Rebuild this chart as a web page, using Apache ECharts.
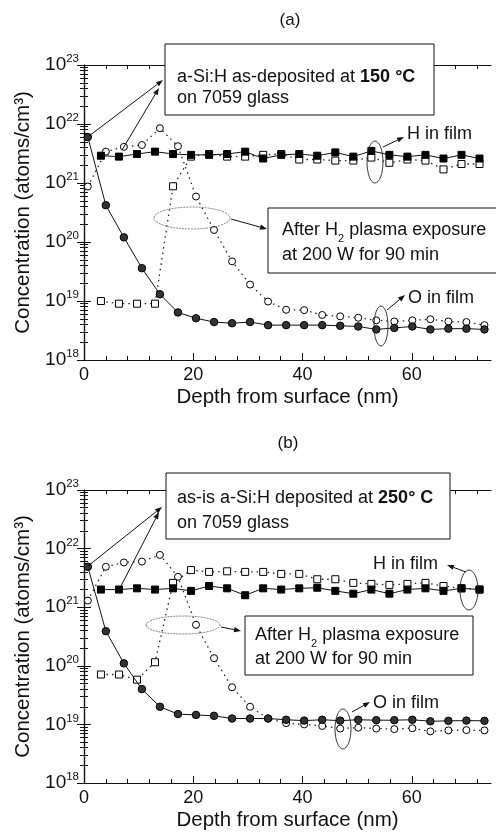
<!DOCTYPE html>
<html lang="en">
<head>
<meta charset="UTF-8">
<title>SIMS profiles</title>
<script src="https://cdn.jsdelivr.net/npm/echarts/dist/echarts.min.js"></script>
<style>
  html, body { margin: 0; padding: 0; background: #fff; }
</style>
</head>
<body>
<div id="container" style="width:496px;height:837px"></div>
<script type="text/javascript">
    // depth positions (nm)
    var depthO = [0.7, 4, 7.3, 10.6, 13.9, 17.2, 20.5, 23.8, 27.1, 30.4, 33.7, 37, 40.3, 43.6, 46.9, 50.2, 53.5, 56.8, 60.1, 63.4, 66.7, 70, 73.3];
    var depthH = [3.1, 6.4, 9.7, 13, 16.3, 19.6, 22.9, 26.2, 29.5, 32.8, 36.1, 39.4, 42.7, 46, 49.3, 52.6, 55.9, 59.2, 62.5, 65.8, 69.1, 72.4];

    // (a) 150 C
    var aOasDep = [6e21, 4.2e20, 1.2e20, 3.6e19, 1.3e19, 6.4e18, 5.1e18, 4.4e18, 4.2e18, 4.4e18, 3.9e18, 3.9e18, 3.9e18, 3.9e18, 3.8e18, 3.7e18, 3.3e18, 3.5e18, 3.7e18, 3.3e18, 3.4e18, 3.4e18, 3.3e18];
    var aOplasma = [8.7e20, 3.4e21, 4.1e21, 4.4e21, 8.5e21, 4.2e21, 5.9e20, 1.6e20, 4.7e19, 1.9e19, 9.8e18, 7.1e18, 7e18, 5.8e18, 5.5e18, 5.2e18, 4.7e18, 4.5e18, 4.7e18, 4.9e18, 4.5e18, 4.4e18, 3.9e18];
    var aHasDep = [2.9e21, 2.8e21, 3.1e21, 3.4e21, 3.1e21, 3.0e21, 3.0e21, 3.1e21, 3.4e21, 2.6e21, 3.0e21, 3.1e21, 2.9e21, 3.3e21, 2.8e21, 3.5e21, 3.0e21, 2.8e21, 3.0e21, 2.6e21, 3.0e21, 2.6e21];
    var aHplasma = [1.0e19, 9e18, 9e18, 9e18, 8.8e20, 2.8e21, 3.1e21, 2.8e21, 2.8e21, 3.0e21, 3.1e21, 2.5e21, 2.5e21, 2.4e21, 2.4e21, 2.7e21, 2.2e21, 2.5e21, 2.4e21, 1.7e21, 2.1e21, 2.1e21];

    // (b) 250 C
    var bOasDep = [4.9e21, 3.9e20, 1.1e20, 4.0e19, 2.0e19, 1.5e19, 1.45e19, 1.4e19, 1.26e19, 1.26e19, 1.26e19, 1.2e19, 1.16e19, 1.2e19, 1.16e19, 1.2e19, 1.18e19, 1.18e19, 1.2e19, 1.13e19, 1.15e19, 1.16e19, 1.15e19];
    var bOplasma = [1.3e21, 4.9e21, 5.8e21, 6.0e21, 7.8e21, 3.3e21, 5.0e20, 1.35e20, 4.3e19, 2.0e19, 1.26e19, 1.05e19, 1.0e19, 9.4e18, 8.5e18, 8.8e18, 8.5e18, 8.3e18, 8.6e18, 7.6e18, 7.9e18, 8.0e18, 7.9e18];
    var bHasDep = [2.0e21, 2.0e21, 2.1e21, 2.0e21, 2.1e21, 1.9e21, 2.3e21, 2.1e21, 1.6e21, 2.1e21, 2.0e21, 2.1e21, 2.15e21, 1.9e21, 1.7e21, 2.0e21, 1.7e21, 2.0e21, 2.1e21, 1.9e21, 2.1e21, 2.0e21];
    var bHplasma = [7.1e19, 7.1e19, 5.8e19, 1.15e20, 2.6e21, 4.3e21, 4.0e21, 4.1e21, 4.0e21, 4.0e21, 3.7e21, 3.7e21, 3.0e21, 3.0e21, 2.6e21, 2.5e21, 2.4e21, 2.5e21, 2.6e21, 2.3e21, 2.1e21, 2.0e21];

    // ticks (top decade nudged below 1e23 so float rounding keeps it inside the extent)
    var xMajor = [0, 20, 40, 60];
    var xMinor = [4, 8, 12, 16, 24, 28, 32, 36, 44, 48, 52, 56, 64, 68, 72];
    var yMajor = [1.0001e18, 1e19, 1e20, 1e21, 1e22, 0.9999e23];
    var yMinor = [];
    for (var d = 18; d < 23; d++) {
        for (var m = 2; m <= 9; m++) yMinor.push(m * Math.pow(10, d));
    }

    var font = 'Liberation Sans, Arial, sans-serif';
    var ink = '#111';

    function pairs(xs, ys) {
        return ys.map(function (v, i) { return [xs[i], v]; });
    }

    function xAxes(g) {
        var base = {
            gridIndex: g, type: 'value', min: 0, max: 74.5,
            splitLine: {show: false}
        };
        return [
            Object.assign({}, base, {
                position: 'bottom',
                name: 'Depth from surface (nm)', nameLocation: 'middle', nameGap: 27,
                nameTextStyle: {fontFamily: font, fontSize: 20.5, color: ink},
                axisLine: {show: true, lineStyle: {color: ink, width: 1.2}},
                axisTick: {inside: true, length: 7, customValues: xMajor, lineStyle: {color: ink}},
                axisLabel: {customValues: xMajor, fontFamily: font, fontSize: 18, color: ink, margin: 6}
            }),
            Object.assign({}, base, {
                position: 'bottom',
                axisLine: {show: false},
                axisTick: {inside: true, length: 4, customValues: xMinor, lineStyle: {color: ink}},
                axisLabel: {show: false}
            }),
            Object.assign({}, base, {
                position: 'top',
                axisLine: {show: true, lineStyle: {color: ink, width: 1.2}},
                axisTick: {inside: true, length: 7, customValues: xMajor, lineStyle: {color: ink}},
                axisLabel: {show: false}
            }),
            Object.assign({}, base, {
                position: 'top',
                axisLine: {show: false},
                axisTick: {inside: true, length: 4, customValues: xMinor, lineStyle: {color: ink}},
                axisLabel: {show: false}
            })
        ];
    }

    function yAxes(g) {
        var base = {
            gridIndex: g, type: 'log', logBase: 10, min: 1e18, max: 1e23,
            splitLine: {show: false}
        };
        return [
            Object.assign({}, base, {
                position: 'left',
                name: 'Concentration (atoms/cm³)', nameLocation: 'middle', nameGap: 41,
                nameTextStyle: {fontFamily: font, fontSize: 20.5, color: ink},
                axisLine: {show: true, lineStyle: {color: ink, width: 1.2}},
                axisTick: {inside: true, length: 7, customValues: yMajor, lineStyle: {color: ink}},
                axisLabel: {
                    customValues: yMajor, margin: 5,
                    showMaxLabel: true, showMinLabel: true, hideOverlap: false,
                    formatter: function (v) {
                        return '{b|10}{s|' + Math.round(Math.log10(v)) + '}';
                    },
                    rich: {
                        b: {fontFamily: font, fontSize: 19, color: ink, lineHeight: 24},
                        s: {fontFamily: font, fontSize: 11.5, color: ink, lineHeight: 12, verticalAlign: 'top'}
                    }
                }
            }),
            Object.assign({}, base, {
                position: 'left',
                axisLine: {show: false},
                axisTick: {inside: true, length: 4, customValues: yMinor, lineStyle: {color: ink}},
                axisLabel: {show: false}
            }),
            Object.assign({}, base, {
                position: 'right',
                axisLine: {show: true, lineStyle: {color: ink, width: 1.2}},
                axisTick: {inside: true, length: 7, customValues: yMajor, lineStyle: {color: ink}},
                axisLabel: {show: false}
            }),
            Object.assign({}, base, {
                position: 'right',
                axisLine: {show: false},
                axisTick: {inside: true, length: 4, customValues: yMinor, lineStyle: {color: ink}},
                axisLabel: {show: false}
            })
        ];
    }

    function series(g, xs, ys, kind) {
        var solid = kind === 'Oas' || kind === 'Has';
        var sym = (kind === 'Oas' || kind === 'Opl') ? 'circle' : 'rect';
        return {
            type: 'line', xAxisIndex: g * 4, yAxisIndex: g * 4,
            data: pairs(xs, ys),
            symbol: sym, symbolSize: kind === 'Oas' ? 7.5 : 7,
            showAllSymbol: true,
            lineStyle: solid ? {color: ink, width: 1} : {color: '#222', width: 1.3, type: [1.5, 4]},
            itemStyle: solid
                ? {color: kind === 'Oas' ? '#333' : '#000', borderColor: '#000', borderWidth: 1}
                : {color: '#fff', borderColor: '#000', borderWidth: 1},
            z: solid ? 3 : 2,
            animation: false
        };
    }

    // annotation helpers
    function txt(x, y, text, size, align) {
        return {
            type: 'text', x: x, y: y, z: 100,
            style: {
                text: text, fontFamily: font, fontSize: size || 18, fill: ink,
                align: align || 'left', verticalAlign: 'middle',
                rich: {
                    b: {fontFamily: font, fontSize: 18, fontWeight: 'bold', fill: ink},
                    sub: {fontFamily: font, fontSize: 11, fill: ink, lineHeight: 28, verticalAlign: 'bottom'}
                }
            }
        };
    }
    function box(x, y, w, h) {
        return {type: 'rect', z: 90, shape: {x: x, y: y, width: w, height: h},
            style: {fill: '#fff', stroke: ink, lineWidth: 1}};
    }
    function ell(cx, cy, rx, ry, gray) {
        return {type: 'ellipse', z: 95, shape: {cx: cx, cy: cy, rx: rx, ry: ry},
            style: {fill: null, stroke: gray ? '#777' : '#222', lineWidth: 0.9, lineDash: gray ? [2, 1] : null}};
    }
    function arrow(x1, y1, x2, y2) {
        var a = Math.atan2(y2 - y1, x2 - x1), L = 7, W = 2.6;
        var bx = x2 - L * Math.cos(a), by = y2 - L * Math.sin(a);
        return [
            {type: 'line', z: 95, shape: {x1: x1, y1: y1, x2: bx, y2: by}, style: {stroke: ink, lineWidth: 1}},
            {type: 'polygon', z: 95, shape: {points: [[x2, y2],
                [bx + W * Math.sin(a), by - W * Math.cos(a)],
                [bx - W * Math.sin(a), by + W * Math.cos(a)]]}, style: {fill: ink}}
        ];
    }

    var graphics = [
        txt(290, 20, '(a)', 17, 'center'),
        txt(288, 443, '(b)', 17, 'center'),

        // (a)
        box(165, 44, 269, 71),
        txt(177, 77, 'a-Si:H as-deposited at {b|150 °C}'),
        txt(177, 98, 'on 7059 glass'),
        box(268, 208, 240, 65),
        txt(282, 230, 'After H{sub|2} plasma exposure'),
        txt(282, 255, 'at 200 W for 90 min'),
        ell(192, 218, 38, 11, true),
        txt(407, 134, 'H in film'),
        ell(375, 162, 8, 21),
        txt(408, 298, 'O in film'),
        ell(381, 326, 7, 20),

        // (b)
        box(166, 473, 284, 66),
        txt(177, 498, 'as-is a-Si:H deposited at {b|250° C}'),
        txt(177, 523, 'on 7059 glass'),
        box(245, 616, 228, 59),
        txt(255, 635, 'After H{sub|2} plasma exposure'),
        txt(255, 659, 'at 200 W for 90 min'),
        ell(183, 625, 37, 9, true),
        txt(373, 564, 'H in film'),
        ell(469, 590, 9, 20),
        txt(373, 703, 'O in film'),
        ell(343, 729, 8, 20)
    ].concat(
        arrow(89, 136, 163, 80),
        arrow(122, 150, 159, 88),
        arrow(231, 219, 267, 229),
        arrow(383, 147, 404, 137),
        arrow(387, 310, 405, 295),
        arrow(88, 566, 162, 507),
        arrow(121, 586, 159, 512),
        arrow(221, 627, 241, 631),
        arrow(466, 572, 447, 565),
        arrow(352, 712, 370, 702)
    );

    var chart = echarts.init(document.getElementById('container'));
    chart.setOption({
        animation: false,
        backgroundColor: '#fff',
        grid: [
            {left: 84, top: 65, width: 407, height: 295},
            {left: 84, top: 490, width: 407, height: 293}
        ],
        xAxis: xAxes(0).concat(xAxes(1)),
        yAxis: yAxes(0).concat(yAxes(1)),
        series: [
            series(0, depthO, aOplasma, 'Opl'),
            series(0, depthH, aHplasma, 'Hpl'),
            series(0, depthO, aOasDep, 'Oas'),
            series(0, depthH, aHasDep, 'Has'),
            series(1, depthO, bOplasma, 'Opl'),
            series(1, depthH, bHplasma, 'Hpl'),
            series(1, depthO, bOasDep, 'Oas'),
            series(1, depthH, bHasDep, 'Has')
        ],
        graphic: graphics
    });
</script>
</body>
</html>
